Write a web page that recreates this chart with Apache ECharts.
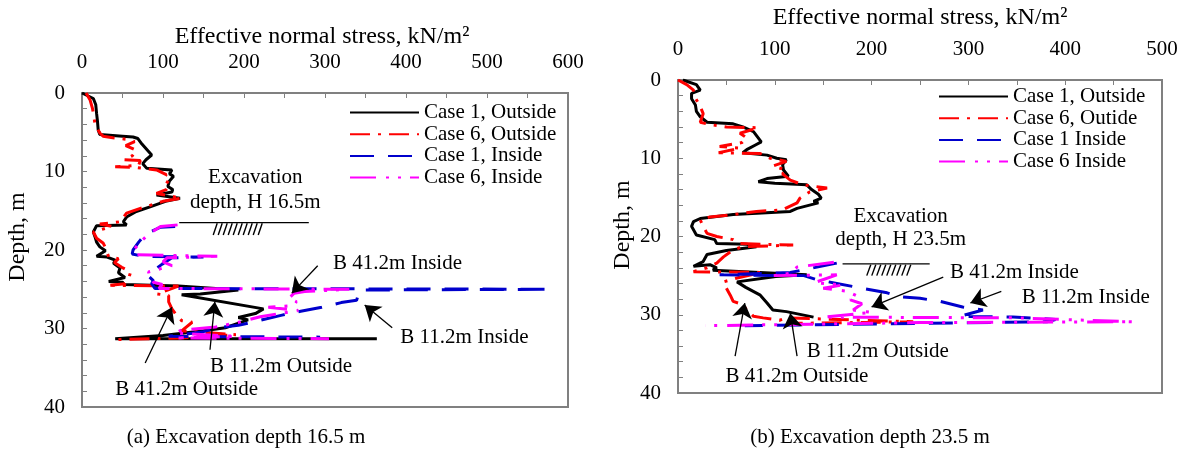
<!DOCTYPE html>
<html>
<head>
<meta charset="utf-8">
<title>Effective normal stress vs depth</title>
<script src="https://cdn.jsdelivr.net/npm/echarts@6/dist/echarts.min.js"></script>
<style>
  html, body { margin: 0; padding: 0; background: #fff; }
  #chart { width: 1184px; height: 450px; }
</style>
</head>
<body>
<div id="chart"></div>
<script>
// ---- data, [stress kN/m2, depth m] ----
// (a) excavation depth 16.5 m
const aCase1Out = [[0,0],[14,0.7],[17,1.5],[18,2.6],[19,3.5],[20,4.7],[22,5.3],[50,5.5],[63,5.6],[69,5.8],[74,6.5],[80,7.2],[86,7.9],[79,8.5],[75,9.0],[80,9.6],[111,9.8],[108,10.3],[113,10.6],[108,11.2],[106,11.9],[112,12.3],[111,12.6],[92,13.0],[121,13.4],[103,13.8],[84,14.5],[67,15.1],[55,15.8],[51,16.4],[55,16.8],[18,16.9],[14,17.7],[16,18.3],[18,19.0],[22,19.6],[29,20.1],[18,20.8],[31,20.9],[41,21.3],[39,21.7],[47,22.3],[45,22.9],[53,23.5],[33,24.0],[50,24.1],[52,24.4],[119,24.6],[193,25.1],[146,25.6],[123,25.7],[224,27.5],[214,28.1],[193,28.6],[205,28.9],[177,29.9],[150,30.3],[100,30.9],[41,31.3],[364,31.3]];
const aCase6Out = [[5,0],[10,0.9],[13,2.0],[14,2.6],[16,3.9],[22,5.1],[26,5.5],[38,5.7],[55,5.9],[65,6.2],[54,6.7],[67,7.3],[62,8.0],[52,8.5],[72,8.6],[70,9.2],[41,9.4],[67,9.5],[92,9.8],[104,10.4],[100,11.0],[109,11.6],[104,12.3],[92,12.8],[123,13.4],[100,13.8],[72,14.7],[55,15.3],[50,16.0],[47,16.4],[22,16.7],[37,17.0],[14,17.7],[18,18.5],[26,19.1],[29,19.7],[33,20.9],[45,21.1],[40,21.6],[49,22.2],[60,22.8],[58,23.5],[53,24.3],[35,24.5],[119,24.6],[93,25.6],[107,25.8],[107,26.6],[111,27.5],[116,28.2],[123,29.0],[136,29.2],[123,30.3],[190,30.8],[120,31.2],[45,31.4]];
const aCase1In = [[115,17.0],[97,17.1],[78,18.0],[70,19.0],[63,20.0],[62,20.5],[75,20.8],[150,20.9],[111,21.0],[99,21.8],[86,22.8],[82,23.3],[88,23.9],[86,24.3],[90,24.9],[578,25.0],[343,25.1],[339,26.4],[320,26.7],[296,27.3],[270,27.8],[247,28.3],[218,29.0],[193,29.6],[169,29.9],[150,30.4],[107,31.0],[294,31.1]];
const aCase6In = [[118,16.8],[97,17.0],[82,18.0],[70,19.2],[64,20.0],[66,20.6],[68,20.8],[167,20.8],[105,21.0],[100,21.5],[111,22.0],[82,22.8],[85,23.5],[88,24.1],[99,24.4],[95,24.9],[330,25.0],[275,25.3],[262,25.5],[255,26.2],[265,26.6],[258,27.1],[230,27.3],[267,27.7],[220,28.5],[190,29.3],[165,29.8],[123,30.2],[115,30.6],[190,31.0],[115,31.2],[305,31.3]];
const aExcav = [[120,16.5],[280,16.5]];

// (b) excavation depth 23.5 m
const bCase1Out = [[5,0],[19,0.6],[23,1.3],[14,1.7],[14,2.4],[18,3.2],[19,4.0],[23,4.7],[30,5.4],[57,5.6],[67,6.0],[78,6.6],[86,7.9],[80,8.3],[71,8.9],[67,9.3],[92,9.6],[102,10.0],[112,10.2],[108,10.8],[109,11.5],[114,12.3],[92,12.6],[83,13.0],[100,13.2],[133,13.4],[138,14.0],[145,14.6],[148,15.1],[140,15.5],[145,15.7],[123,16.4],[116,16.8],[57,17.2],[23,17.7],[16,18.1],[14,18.7],[19,19.8],[38,20.4],[40,20.9],[71,21.0],[81,21.3],[50,21.8],[30,22.3],[26,23.2],[16,23.8],[33,23.6],[40,24.0],[36,24.3],[133,24.9],[101,25.1],[61,25.8],[70,26.5],[85,27.5],[92,28.5],[98,29.4],[112,29.6],[140,30.3]];
const bCase6Out = [[0,0],[9,0.6],[16,1.3],[18,2.3],[23,3.4],[26,4.3],[23,5.4],[33,5.7],[50,6.0],[83,6.1],[64,6.8],[71,7.4],[66,8.0],[43,8.5],[64,8.7],[42,9.3],[85,9.4],[95,10.0],[112,10.4],[98,11.0],[112,11.5],[108,12.0],[116,12.8],[129,13.4],[154,13.8],[136,14.3],[126,15.1],[123,15.7],[108,16.6],[81,16.8],[57,17.2],[33,17.5],[23,17.9],[26,18.7],[30,19.6],[40,20.0],[57,20.4],[64,20.9],[119,21.1],[67,21.3],[57,21.7],[47,22.6],[40,23.4],[30,24.0],[16,24.5],[86,24.6],[61,25.3],[47,25.8],[50,26.6],[54,27.5],[57,28.3],[67,28.7],[71,29.4],[78,30.2],[88,30.4],[105,30.7],[112,30.4],[243,30.9],[120,31.1]];
const bCase1In = [[164,23.4],[116,24.6],[43,24.9],[130,25.0],[143,25.5],[160,25.9],[181,26.4],[216,27.2],[229,27.7],[250,27.9],[271,28.3],[294,29.0],[315,29.4],[291,30.2],[346,30.3],[390,30.6],[381,30.9],[69,31.4]];
const bCase6In = [[161,23.3],[123,23.9],[116,24.7],[99,25.0],[164,24.9],[141,25.9],[170,26.2],[150,26.6],[175,27.0],[185,27.6],[178,28.1],[190,28.6],[181,29.4],[200,29.7],[150,30.3],[350,30.4],[470,30.9],[250,31.0],[28,31.4]];
const bExcav = [[170,23.5],[260,23.5]];

const aLegend = ['Case 1, Outside', 'Case 6, Outside', 'Case 1, Inside', 'Case 6, Inside'];
const bLegend = ['Case 1, Outside', 'Case 6, Outide', 'Case 1 Inside', 'Case 6 Inside'];

// annotations: text anchor and arrow in data coordinates
const aNotes = [
  { text: 'B 41.2m Inside', at: [310, 21.7], from: [291, 22.0], to: [259, 25.5] },
  { text: 'B 11.2m Inside', at: [393, 31.1], from: [383, 29.9], to: [349, 27.0] },
  { text: 'B 11.2m Outside', at: [158, 34.9], from: [158, 32.7], to: [164, 26.6] },
  { text: 'B 41.2m Outside', at: [41, 37.8], from: [78, 34.4], to: [111, 27.3] }
];
const bNotes = [
  { text: 'B 41.2m Inside', at: [281, 24.6], from: [274, 25.2], to: [200, 29.0] },
  { text: 'B 11.2m Inside', at: [355, 27.8], from: [334, 27.0], to: [302, 28.5] },
  { text: 'B 11.2m Outside', at: [133, 34.7], from: [123, 35.3], to: [116, 29.8] },
  { text: 'B 41.2m Outside', at: [49, 37.9], from: [59, 35.3], to: [69, 28.5] }
];

const FONT = 'Liberation Serif';
const styles = [
  { color: '#000000', type: 'solid' },
  { color: '#ff0000', type: [20, 8, 3, 8] },
  { color: '#0000cc', type: [24, 14] },
  { color: '#ff00ff', type: [26, 10, 3, 9, 3, 9] }
];

const chart = echarts.init(document.getElementById('chart'));

function xAx(gi, max) {
  return {
    type: 'value', gridIndex: gi, position: 'top', min: 0, max: max, interval: 50,
    axisLine: { show: true, onZero: false, lineStyle: { color: '#808080', width: 2 } },
    axisTick: { show: true, inside: true, length: 5, lineStyle: { color: '#808080', width: 1 } },
    axisLabel: { margin: 20, fontFamily: FONT, fontSize: 21, color: '#000',
      formatter: v => (v % 100 === 0 ? String(v) : '') },
    splitLine: { show: false }
  };
}
function yAx(gi) {
  return {
    type: 'value', gridIndex: gi, inverse: true, min: 0, max: 40, interval: 2,
    axisLine: { show: true, onZero: false, lineStyle: { color: '#808080', width: 2 } },
    axisTick: { show: true, inside: true, length: 5, lineStyle: { color: '#808080', width: 1 } },
    axisLabel: { margin: 17, fontFamily: FONT, fontSize: 21, color: '#000',
      formatter: v => (v % 10 === 0 ? String(v) : '') },
    splitLine: { show: false }
  };
}
function profile(name, data, gi, k) {
  return {
    name: name, type: 'line', xAxisIndex: gi, yAxisIndex: gi, data: data,
    symbol: 'none', smooth: false, silent: true,
    itemStyle: { color: styles[k].color },
    lineStyle: { color: styles[k].color, width: 3, type: styles[k].type }
  };
}
function excavation(data, gi, notes) {
  return {
    type: 'line', xAxisIndex: gi, yAxisIndex: gi, data: data, symbol: 'none', silent: true,
    lineStyle: { color: '#000', width: 1.3 },
    markLine: {
      silent: true, symbol: ['none', 'arrow'], symbolSize: 15,
      label: { show: false },
      lineStyle: { color: '#000', width: 1.3, type: 'solid' },
      data: notes.map(n => [{ coord: n.from }, { coord: n.to }])
    }
  };
}
function legend(names, left, top) {
  return {
    data: names, orient: 'vertical', left: left, top: top, selectedMode: false,
    itemWidth: 69, itemHeight: 14, itemGap: 0.7,
    itemStyle: { opacity: 0 },
    textStyle: { fontFamily: FONT, fontSize: 21, color: '#000', lineHeight: 21 }
  };
}

chart.setOption({
  animation: false,
  grid: [
    { left: 82, top: 93, width: 486, height: 314, show: true, borderColor: '#808080', borderWidth: 2 },
    { left: 678, top: 80, width: 484, height: 313, show: true, borderColor: '#808080', borderWidth: 2 }
  ],
  xAxis: [xAx(0, 600), xAx(1, 500)],
  yAxis: [yAx(0), yAx(1)],
  legend: [legend(aLegend, 344, 97), legend(bLegend, 933, 81)],
  series: [
    profile(aLegend[0], aCase1Out, 0, 0),
    profile(aLegend[1], aCase6Out, 0, 1),
    profile(aLegend[2], aCase1In, 0, 2),
    profile(aLegend[3], aCase6In, 0, 3),
    excavation(aExcav, 0, aNotes),
    profile(bLegend[0], bCase1Out, 1, 0),
    profile(bLegend[1], bCase6Out, 1, 1),
    profile(bLegend[2], bCase1In, 1, 2),
    profile(bLegend[3], bCase6In, 1, 3),
    excavation(bExcav, 1, bNotes)
  ]
});

// texts and hatching, placed from data coordinates
const els = [];
function txt(x, y, s, size, align, rot) {
  els.push({
    type: 'text', x: x, y: y, rotation: rot || 0, silent: true,
    style: { text: s, fontFamily: FONT, fontSize: size, fill: '#000',
      textAlign: align, textVerticalAlign: 'middle', align: align, verticalAlign: 'middle' }
  });
}
function px(gi, p) { return chart.convertToPixel({ gridIndex: gi }, p); }
function hatch(gi, p0, p1) {
  const a = px(gi, p0), b = px(gi, p1);
  for (let x = a[0]; x < b[0] - 4; x += 5) {
    els.push({ type: 'line', silent: true, shape: { x1: x, y1: b[1], x2: x + 4, y2: a[1] },
      style: { stroke: '#000', lineWidth: 1.4 } });
  }
}

[[0, aNotes], [1, bNotes]].forEach(([gi, notes]) => {
  notes.forEach(n => { const p = px(gi, n.at); txt(p[0], p[1], n.text, 21, 'left'); });
});
let p = px(0, [214, 10.8]); txt(p[0], p[1], 'Excavation', 21, 'center');
p = px(0, [214, 13.9]); txt(p[0], p[1], 'depth, H 16.5m', 21, 'center');
p = px(1, [230, 17.5]); txt(p[0], p[1], 'Excavation', 21, 'center');
p = px(1, [230, 20.4]); txt(p[0], p[1], 'depth, H 23.5m', 21, 'center');
hatch(0, [162, 16.6], [228, 18.1]);
hatch(1, [195, 23.6], [243, 25.0]);

txt(322, 37, 'Effective normal stress, kN/m\u00b2', 24, 'center');
txt(920, 18, 'Effective normal stress, kN/m\u00b2', 24, 'center');
txt(18, 237, 'Depth, m', 24, 'center', Math.PI / 2);
txt(623, 225, 'Depth, m', 24, 'center', Math.PI / 2);
txt(246, 437, '(a) Excavation depth 16.5 m', 21, 'center');
txt(870, 437, '(b) Excavation depth 23.5 m', 21, 'center');

chart.setOption({ graphic: { elements: els } });
</script>
</body>
</html>
